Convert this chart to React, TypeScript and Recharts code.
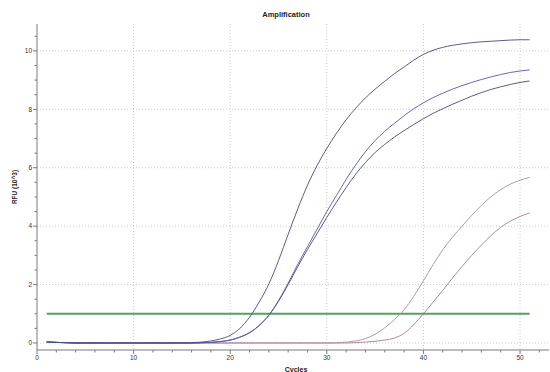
import React from 'react'
import { LineChart, Line, XAxis, YAxis, CartesianGrid, ReferenceLine, Label } from 'recharts'

// cycle numbers (x categories)
const cycles = [
  1, 2, 3, 4, 5, 6, 7, 8, 9, 10, 11, 12, 13, 14, 15, 16, 17, 18, 19, 20, 21, 22, 23, 24, 25, 26,
  27, 28, 29, 30, 31, 32, 33, 34, 35, 36, 37, 38, 39, 40, 41, 42, 43, 44, 45, 46, 47, 48, 49, 50, 51,
]

// RFU (10^3) per cycle
const wellA = [
  0.03, 0.02, 0.01, 0, 0, 0, 0, 0, 0, 0, 0, 0, 0, 0, 0, 0.01, 0.03, 0.07, 0.14, 0.26, 0.5, 0.88,
  1.4, 2.02, 2.82, 3.72, 4.6, 5.4, 6.08, 6.66, 7.18, 7.64, 8.04, 8.39, 8.69, 8.96, 9.22, 9.45,
  9.68, 9.88, 10.02, 10.12, 10.19, 10.24, 10.28, 10.31, 10.33, 10.35, 10.37, 10.38, 10.38,
]
const wellB = [
  0.04, 0.02, 0.01, 0, 0, 0, 0, 0, 0, 0, 0, 0, 0, 0, 0, 0, 0.01, 0.02, 0.05, 0.1, 0.2, 0.35, 0.6,
  0.95, 1.45, 2.05, 2.7, 3.3, 3.9, 4.5, 5.05, 5.6, 6.1, 6.55, 6.93, 7.25, 7.52, 7.78, 8.02, 8.22,
  8.4, 8.55, 8.69, 8.81, 8.92, 9.02, 9.11, 9.19, 9.26, 9.31, 9.35,
]
const wellC = [
  0.04, 0.02, 0.01, 0, 0, 0, 0, 0, 0, 0, 0, 0, 0, 0, 0, 0, 0.01, 0.02, 0.05, 0.1, 0.2, 0.35, 0.6,
  0.95, 1.43, 2.0, 2.62, 3.2, 3.75, 4.3, 4.82, 5.32, 5.78, 6.18, 6.52, 6.8, 7.05, 7.27, 7.48, 7.68,
  7.86, 8.02, 8.17, 8.31, 8.45, 8.57, 8.68, 8.77, 8.85, 8.92, 8.97,
]
const wellD = [
  0.03, 0.02, 0.01, 0, 0, 0, 0, 0, 0, 0, 0, 0, 0, 0, 0, 0, 0, 0, 0, 0, 0, 0, 0, 0, 0, 0, 0, 0, 0,
  0, 0.01, 0.03, 0.07, 0.15, 0.3, 0.52, 0.8, 1.14, 1.6, 2.13, 2.68, 3.19, 3.62, 4.0, 4.37, 4.71,
  5.01, 5.25, 5.44, 5.57, 5.67,
]
const wellE = [
  0.03, 0.02, 0.01, 0, 0, 0, 0, 0, 0, 0, 0, 0, 0, 0, 0, 0, 0, 0, 0, 0, 0, 0, 0, 0, 0, 0, 0, 0, 0,
  0, 0, 0, 0.01, 0.03, 0.06, 0.1, 0.17, 0.33, 0.63, 1.0, 1.4, 1.8, 2.22, 2.62, 3.0, 3.35, 3.68,
  3.96, 4.17, 4.33, 4.45,
]

const threshold = 1
const thresholdRange = [1, 51]

const xTicks = [0, 2, 4, 6, 8, 10, 12, 14, 16, 18, 20, 22, 24, 26, 28, 30, 32, 34, 36, 38, 40, 42, 44, 46, 48, 50, 52]
const xMajor = [0, 10, 20, 30, 40, 50]
const yTicks = [0, 0.5, 1, 1.5, 2, 2.5, 3, 3.5, 4, 4.5, 5, 5.5, 6, 6.5, 7, 7.5, 8, 8.5, 9, 9.5, 10, 10.5]
const yMajor = [0, 2, 4, 6, 8, 10]

const data = cycles.map((c, i) => ({
  cycle: c,
  a: wellA[i],
  b: wellB[i],
  c: wellC[i],
  d: wellD[i],
  e: wellE[i],
}))

const FONT = '"Liberation Sans", Arial, sans-serif'
const AXIS = '#7a7a7a'

const XTick = (props: any) => {
  const { x, y, payload } = props
  const major = xMajor.includes(payload.value)
  return (
    <g>
      <line x1={x} y1={y} x2={x} y2={y + (major ? 4 : 2.5)} stroke={AXIS} />
      {major && (
        <text x={x} y={y + 10} textAnchor="middle" fontSize={6.5} fill="#333" fontFamily={FONT}>
          {payload.value}
        </text>
      )}
    </g>
  )
}

const YTick = (props: any) => {
  const { x, y, payload } = props
  const major = yMajor.includes(payload.value)
  return (
    <g>
      <line x1={x} y1={y} x2={x - (major ? 4 : 2.5)} y2={y} stroke={AXIS} />
      {major && (
        <text x={x - 5} y={y + 2.3} textAnchor="end" fontSize={6.5} fill="#333" fontFamily={FONT}>
          {payload.value}
        </text>
      )}
    </g>
  )
}

export default function App() {
  return (
    <div style={{ position: 'absolute', left: 0, top: 0, width: 550, height: 372, background: '#fff', fontFamily: FONT }}>
      <div
        style={{
          position: 'absolute',
          left: 286,
          top: 11,
          transform: 'translateX(-50%)',
          fontSize: 7.5,
          fontWeight: 'bold',
          lineHeight: 1,
          color: '#222',
          whiteSpace: 'nowrap',
        }}
      >
        Amplification
      </div>
      <div
        style={{
          position: 'absolute',
          left: 15,
          top: 187,
          transform: 'translate(-50%, -50%) rotate(-90deg)',
          fontSize: 6.5,
          fontWeight: 'bold',
          lineHeight: 1,
          color: '#222',
          whiteSpace: 'nowrap',
        }}
      >
        RFU (10^3)
      </div>
      <LineChart width={550} height={372} data={data} margin={{ top: 24, right: 1, left: 0, bottom: 0 }}>
        <CartesianGrid
          stroke="#cccccc"
          strokeDasharray="1 2"
          horizontalValues={yMajor}
          verticalValues={[10, 20, 30, 40, 50]}
        />
        <XAxis
          dataKey="cycle"
          type="number"
          domain={[0, 53]}
          ticks={xTicks}
          interval={0}
          allowDataOverflow
          tickLine={false}
          tickSize={0}
          tickMargin={0}
          tick={<XTick />}
          height={22}
          axisLine={{ stroke: AXIS }}
        >
          <Label
            value="Cycles"
            position="insideBottom"
            offset={0}
            dx={3}
            style={{ fontSize: 7, fontWeight: 'bold', fill: '#222', fontFamily: FONT }}
          />
        </XAxis>
        <XAxis
          xAxisId="top"
          orientation="top"
          type="number"
          domain={[0, 53]}
          tick={false}
          tickLine={false}
          height={0}
          axisLine={{ stroke: '#666' }}
        />
        <YAxis
          type="number"
          domain={[-0.24, 10.92]}
          ticks={yTicks}
          interval={0}
          allowDataOverflow
          tickLine={false}
          tickSize={0}
          tickMargin={0}
          tick={<YTick />}
          width={37}
          axisLine={{ stroke: AXIS }}
        />
        <ReferenceLine
          segment={[
            { x: thresholdRange[0], y: threshold },
            { x: thresholdRange[1], y: threshold },
          ]}
          stroke="#55a064"
          strokeWidth={2}
        />
        <Line type="monotone" dataKey="e" stroke="#a57d95" strokeWidth={0.9} dot={false} isAnimationActive={false} />
        <Line type="monotone" dataKey="d" stroke="#b38aa3" strokeWidth={0.9} dot={false} isAnimationActive={false} />
        <Line type="monotone" dataKey="c" stroke="#474d70" strokeWidth={0.9} dot={false} isAnimationActive={false} />
        <Line type="monotone" dataKey="b" stroke="#5856b8" strokeWidth={0.9} dot={false} isAnimationActive={false} />
        <Line type="monotone" dataKey="a" stroke="#4a4884" strokeWidth={0.9} dot={false} isAnimationActive={false} />
      </LineChart>
    </div>
  )
}
